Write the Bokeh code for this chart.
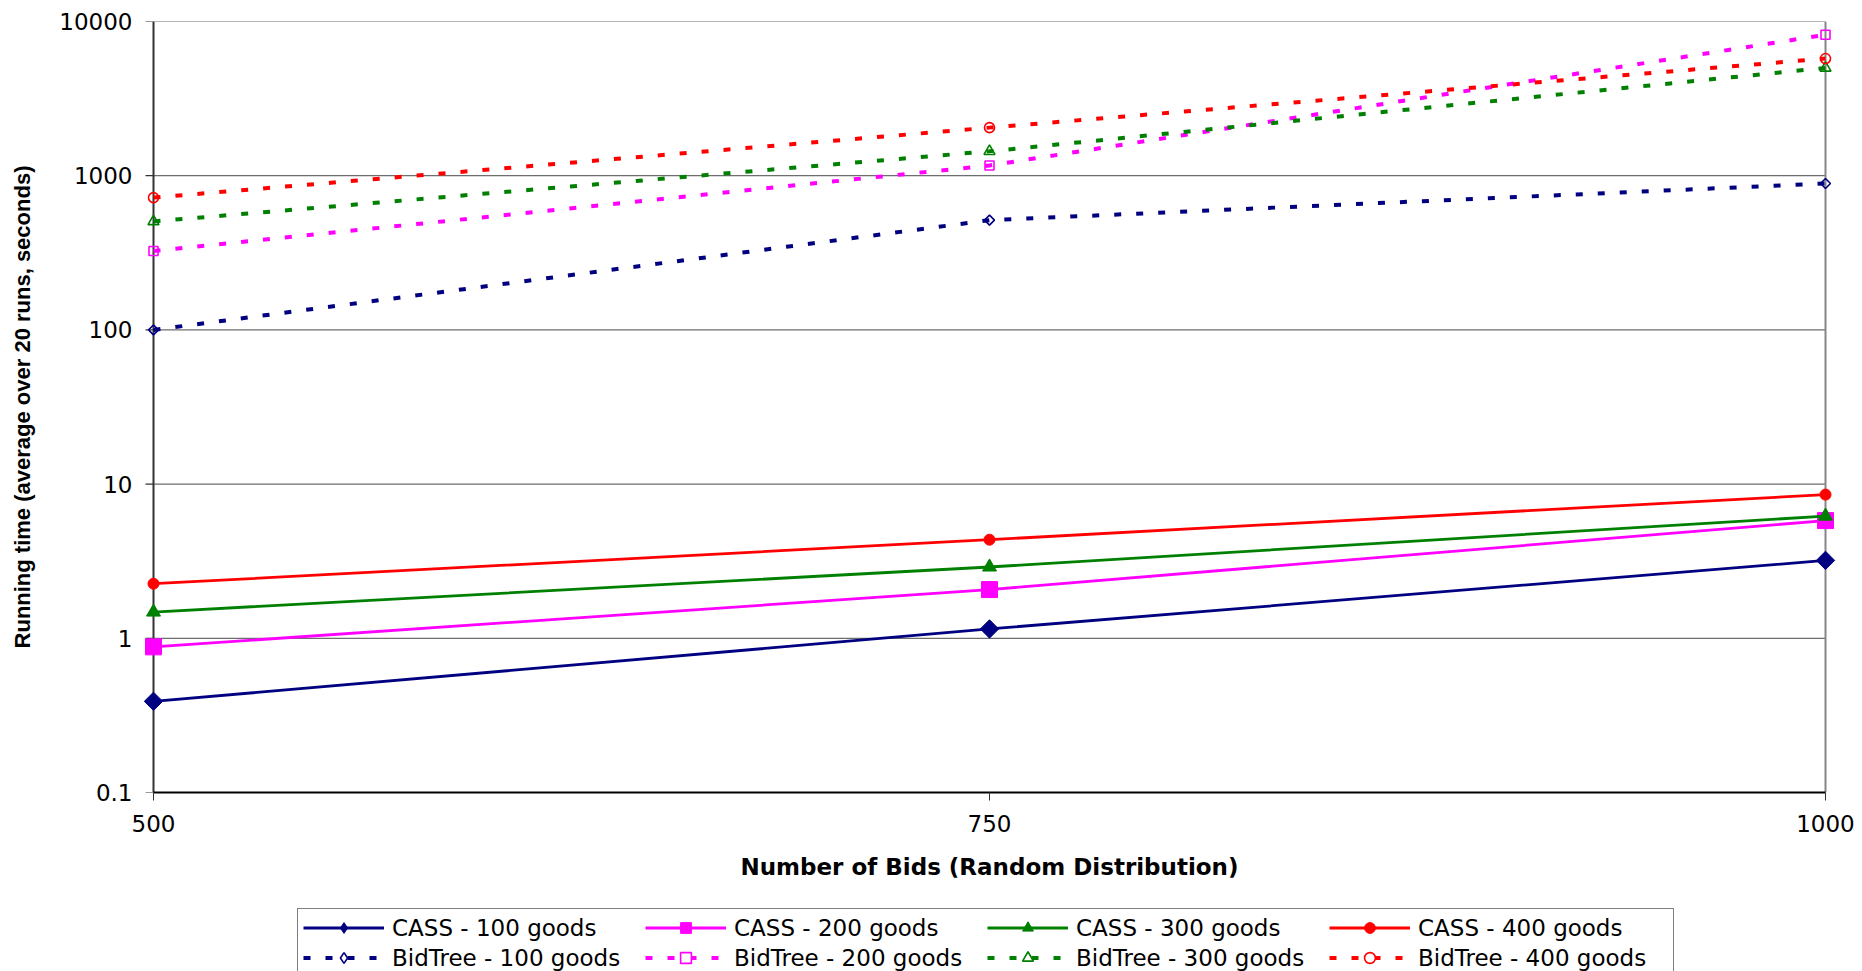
import math
from bokeh.plotting import figure
from bokeh.layouts import column
from bokeh.models import Legend, LegendItem, FixedTicker, Range1d
from bokeh.embed import file_html
from bokeh.resources import INLINE

# ---- data ----
bids = [500, 750, 1000]
x_ticks = [500, 750, 1000]
y_ticks = [0.1, 1, 10, 100, 1000, 10000]
y_tick_labels = ["0.1", "1", "10", "100", "1000", "10000"]

cass_100 = [0.39, 1.15, 3.2]
cass_200 = [0.88, 2.07, 5.8]
cass_300 = [1.48, 2.9, 6.2]
cass_400 = [2.26, 4.36, 8.55]
bidtree_100 = [100, 515, 890]
bidtree_200 = [325, 1165, 8200]
bidtree_300 = [505, 1440, 5000]
bidtree_400 = [721, 2050, 5750]

series_names = ["CASS - 100 goods", "CASS - 200 goods", "CASS - 300 goods", "CASS - 400 goods",
                "BidTree - 100 goods", "BidTree - 200 goods", "BidTree - 300 goods", "BidTree - 400 goods"]

# ---- layout constants ----
PAD_PX = 15            # frame padding so edge markers are not clipped
TICK_PX = 8
BORDER_L = 153 - PAD_PX
BORDER_R = 37 - PAD_PX
px_per_unit = 1672 / (x_ticks[-1] - x_ticks[0])
pad = PAD_PX / px_per_unit
tick_len = TICK_PX / px_per_unit

p = figure(width=1862, height=905,
           x_range=Range1d(x_ticks[0] - pad, x_ticks[-1] + pad),
           y_range=Range1d(y_ticks[0], y_ticks[-1]),
           y_axis_type="log", output_backend="svg", toolbar_location=None,
           min_border_left=BORDER_L, min_border_right=BORDER_R,
           min_border_top=21, min_border_bottom=113)

p.background_fill_color = "white"
p.border_fill_color = "white"
p.outline_line_color = None
p.xgrid.grid_line_color = None
p.ygrid.grid_line_color = None

grid_col = "#6e6e6e"
axis_col = "#333333"
n = len(y_ticks)
# horizontal gridlines over the data area only
p.segment(x0=[x_ticks[0]] * n, x1=[x_ticks[-1]] * n, y0=y_ticks, y1=y_ticks,
          line_color=grid_col, line_width=1.2)
# right border
p.segment(x0=[x_ticks[-1]], x1=[x_ticks[-1]], y0=[y_ticks[0]], y1=[y_ticks[-1]],
          line_color="#868686", line_width=2)
# value axis line at x = 500 and its tick marks
p.segment(x0=[x_ticks[0]], x1=[x_ticks[0]], y0=[y_ticks[0]], y1=[y_ticks[-1]],
          line_color=axis_col, line_width=2)
p.segment(x0=[x_ticks[0] - tick_len] * n, x1=[x_ticks[0]] * n, y0=y_ticks, y1=y_ticks,
          line_color=axis_col, line_width=1.2)

p.xaxis.ticker = FixedTicker(ticks=x_ticks)
p.yaxis.ticker = FixedTicker(ticks=y_ticks)
p.yaxis.major_label_overrides = dict(zip(y_ticks, y_tick_labels))
p.xaxis.bounds = (x_ticks[0], x_ticks[-1])

for ax in (p.xaxis, p.yaxis):
    ax.minor_tick_line_color = None
    ax.major_tick_in = 0
    ax.major_label_text_font = "DejaVu Sans"
    ax.major_label_text_font_size = "23px"
    ax.major_label_text_color = "black"
    ax.axis_label_text_color = "black"
    ax.axis_label_text_font_style = "bold"

p.xaxis.major_tick_out = TICK_PX
p.xaxis.major_tick_line_color = axis_col
p.xaxis.axis_line_color = "black"
p.xaxis.axis_line_width = 2
p.xaxis.major_label_standoff = 14

p.yaxis.axis_line_color = None
p.yaxis.major_tick_line_color = None
p.yaxis.major_tick_out = 0
p.yaxis.major_label_standoff = 6

p.xaxis.axis_label = "Number of Bids (Random Distribution)"
p.xaxis.axis_label_text_font = "DejaVu Sans"
p.xaxis.axis_label_text_font_size = "23px"
p.xaxis.axis_label_standoff = 19
p.yaxis.axis_label = "Running time (average over 20 runs, seconds)"
p.yaxis.axis_label_text_font = "Liberation Sans"
p.yaxis.axis_label_text_font_size = "22px"
p.yaxis.axis_label_standoff = 21

navy, magenta, green, red = "#000080", "#FF00FF", "#008000", "#FF0000"

# (values, colour, plot marker, size, angle, legend marker)
specs_cass = [
    (cass_100, navy, "square", 13, math.pi / 4, "diamond"),
    (cass_200, magenta, "square", 16, 0, "square"),
    (cass_300, green, "triangle", 14, 0, "triangle"),
    (cass_400, red, "circle", 11, 0, "circle"),
]
specs_bt = [
    (bidtree_100, navy, "square", 7, math.pi / 4, "diamond"),
    (bidtree_200, magenta, "square", 9, 0, "square"),
    (bidtree_300, green, "triangle", 11, 0, "triangle"),
    (bidtree_400, red, "circle", 10, 0, "circle"),
]


def draw(fig, for_legend=False):
    rends = []
    for vals, col, mk, sz, ang, lmk in specs_cass:
        l = fig.line(bids, vals, line_color=col, line_width=2.8)
        s = fig.scatter(bids, vals, marker=lmk if for_legend else mk, size=sz,
                        angle=0 if for_legend else ang, fill_color=col, line_color=col)
        rends.append([l, s])
    for vals, col, mk, sz, ang, lmk in specs_bt:
        l = fig.line(bids, vals, line_color=col, line_width=4, line_dash="7 15")
        s = fig.scatter(bids, vals, marker=lmk if for_legend else mk, size=sz,
                        angle=0 if for_legend else ang, fill_color="white" if for_legend else None,
                        line_color=col, line_width=1.6)
        rends.append([l, s])
    return rends


draw(p)

# ---- legend strip (separate figure below the chart; its glyph copies lie outside its ranges) ----
lf = figure(width=1862, height=66, x_range=Range1d(0, 1), y_range=Range1d(0, 1),
            output_backend="svg", toolbar_location=None,
            x_axis_location=None, y_axis_location=None,
            min_border_left=BORDER_L, min_border_right=BORDER_R, min_border_top=0, min_border_bottom=0)
lf.outline_line_color = None
lf.xgrid.grid_line_color = None
lf.ygrid.grid_line_color = None
lf.background_fill_color = "white"
lf.border_fill_color = "white"
leg_rends = draw(lf, for_legend=True)
items = [LegendItem(label=series_names[i], renderers=leg_rends[i]) for i in range(8)]

legend = Legend(items=items, location=(297 - BORDER_L, -6), orientation="horizontal", ncols=4,
                glyph_width=81, glyph_height=27, label_standoff=8, label_width=250,
                spacing=3, padding=5, margin=0,
                label_text_font="DejaVu Sans", label_text_font_size="23px",
                label_text_color="black",
                border_line_color="black", border_line_width=1.2,
                background_fill_color="white", background_fill_alpha=1.0)
lf.add_layout(legend, "center")

open("out.html", "w").write(file_html(column(p, lf, spacing=0), INLINE))
